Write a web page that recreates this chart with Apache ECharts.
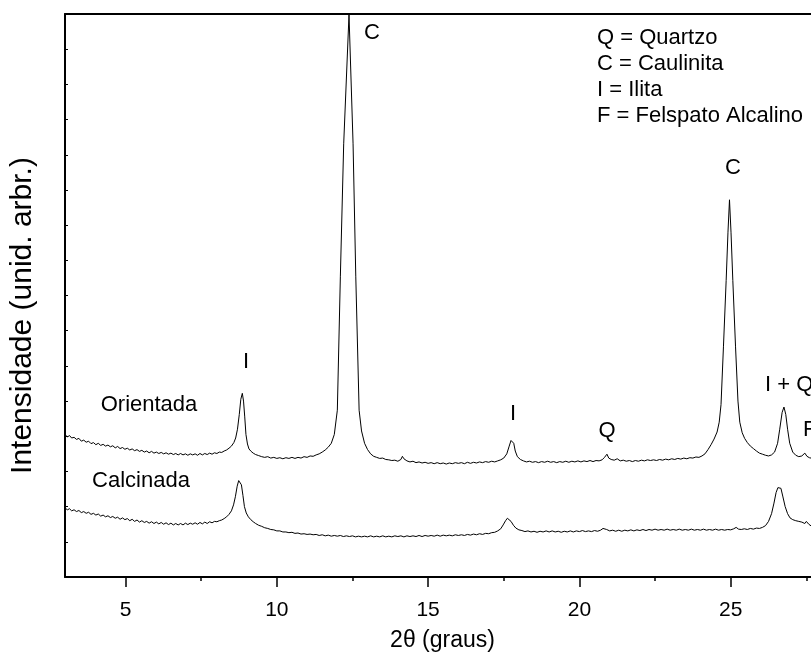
<!DOCTYPE html>
<html>
<head>
<meta charset="utf-8">
<script src="https://cdn.jsdelivr.net/npm/echarts@6/dist/echarts.min.js"></script>
<style>html,body{margin:0;padding:0;background:#fff}#c{width:811px;height:660px}</style>
</head>
<body>
<div id="c"></div>
<script>
// ---- data (2θ in degrees, intensity in arbitrary units) ----
var ori2theta = [3.00,3.08,3.15,3.22,3.30,3.38,3.46,3.54,3.62,3.70,3.78,3.86,3.94,4.02,4.10,4.18,4.26,4.34,4.42,4.50,4.58,4.66,4.74,4.82,4.90,4.98,5.06,5.14,5.22,5.30,5.38,5.46,5.54,5.62,5.70,5.78,5.86,5.94,6.02,6.10,6.18,6.26,6.34,6.42,6.50,6.58,6.66,6.74,6.82,6.90,6.98,7.06,7.14,7.22,7.30,7.38,7.46,7.54,7.62,7.70,7.78,7.86,7.94,8.02,8.10,8.18,8.26,8.34,8.42,8.50,8.58,8.64,8.70,8.76,8.81,8.86,8.90,8.94,8.98,9.03,9.08,9.15,9.22,9.30,9.40,9.50,9.60,9.70,9.80,9.90,10.00,10.10,10.20,10.30,10.40,10.50,10.60,10.70,10.80,10.90,11.00,11.10,11.20,11.30,11.40,11.50,11.60,11.70,11.80,11.90,12.00,12.10,12.21,12.386,12.52,12.61,12.72,12.80,12.90,13.00,13.10,13.20,13.30,13.40,13.50,13.60,13.70,13.80,13.90,14.00,14.10,14.15,14.20,14.30,14.40,14.50,14.60,14.70,14.80,14.90,15.00,15.10,15.20,15.30,15.40,15.50,15.60,15.70,15.80,15.90,16.00,16.10,16.20,16.30,16.40,16.50,16.60,16.70,16.80,16.90,17.00,17.10,17.20,17.30,17.40,17.50,17.60,17.68,17.74,17.78,17.83,17.88,17.95,18.05,18.15,18.25,18.35,18.45,18.55,18.65,18.75,18.85,18.95,19.05,19.15,19.25,19.35,19.45,19.55,19.65,19.75,19.85,19.95,20.05,20.15,20.25,20.35,20.45,20.55,20.65,20.75,20.83,20.91,20.97,21.05,21.15,21.25,21.35,21.45,21.55,21.65,21.75,21.85,21.95,22.05,22.15,22.25,22.35,22.45,22.55,22.65,22.75,22.85,22.95,23.05,23.15,23.25,23.35,23.45,23.55,23.65,23.75,23.85,23.95,24.05,24.15,24.25,24.35,24.45,24.55,24.62,24.68,24.76,24.85,24.91,24.96,25.01,25.07,25.16,25.24,25.30,25.38,25.46,25.55,25.65,25.75,25.85,25.95,26.05,26.15,26.25,26.35,26.45,26.55,26.62,26.70,26.76,26.82,26.88,26.95,27.05,27.15,27.25,27.35,27.45,27.52,27.60,27.70,27.80,28.00];
var oriIntensity = [405,398,402,395,397,391,394,386,389,383,386,379,382,376,380,374,377,372,375,370,373,367,371,365,368,363,366,361,364,359,362,357,360,355,358,353,357,352,355,351,354,350,353,349,352,348,351,347,351,347,350,346,350,347,350,346,351,347,351,348,352,349,353,351,355,354,358,361,366,372,382,395,420,462,505,522,500,455,405,378,364,357,352,348,345,342,340,342,338,340,337,339,336,339,337,340,337,340,338,342,340,344,343,347,350,355,361,369,380,405,474,853,1231,1598,1231,853,474,415,380,362,350,343,340,337,338,334,333,331,332,329,334,343,336,330,327,329,325,327,324,326,323,325,322,325,322,324,321,324,322,325,323,325,322,326,323,326,324,327,325,328,326,329,327,330,333,338,350,372,388,392,380,358,342,334,330,327,329,326,328,325,328,326,329,326,328,325,328,326,329,326,329,327,330,327,330,328,331,328,331,330,333,340,349,338,334,332,336,330,332,329,331,328,331,329,332,330,333,331,333,331,334,332,335,333,336,334,337,335,338,336,339,338,341,340,344,350,362,376,392,412,440,490,654,843,980,1072,980,843,654,500,440,410,394,382,372,365,358,352,349,346,344,347,355,380,420,468,483,462,420,380,355,346,342,344,352,343,339,337,336,334];

var cal2theta = [3.00,3.08,3.15,3.22,3.30,3.38,3.46,3.54,3.62,3.70,3.78,3.86,3.94,4.02,4.10,4.18,4.26,4.34,4.42,4.50,4.58,4.66,4.74,4.82,4.90,4.98,5.06,5.14,5.22,5.30,5.38,5.46,5.54,5.62,5.70,5.78,5.86,5.94,6.02,6.10,6.18,6.26,6.34,6.42,6.50,6.58,6.66,6.74,6.82,6.90,6.98,7.06,7.14,7.22,7.30,7.38,7.46,7.54,7.62,7.70,7.78,7.86,7.94,8.02,8.10,8.18,8.26,8.34,8.42,8.50,8.57,8.63,8.69,8.74,8.78,8.83,8.88,8.93,8.99,9.06,9.14,9.22,9.30,9.40,9.50,9.60,9.70,9.80,9.90,10.00,10.10,10.20,10.30,10.40,10.50,10.60,10.70,10.80,10.90,11.00,11.10,11.20,11.30,11.40,11.50,11.60,11.70,11.80,11.90,12.00,12.10,12.20,12.30,12.40,12.50,12.60,12.70,12.80,12.90,13.00,13.10,13.20,13.30,13.40,13.50,13.60,13.70,13.80,13.90,14.00,14.10,14.20,14.30,14.40,14.50,14.60,14.70,14.80,14.90,15.00,15.10,15.20,15.30,15.40,15.50,15.60,15.70,15.80,15.90,16.00,16.10,16.20,16.30,16.40,16.50,16.60,16.70,16.80,16.90,17.00,17.10,17.20,17.30,17.40,17.48,17.56,17.62,17.68,17.74,17.82,17.90,18.00,18.10,18.20,18.30,18.40,18.50,18.60,18.70,18.80,18.90,19.00,19.10,19.20,19.30,19.40,19.50,19.60,19.70,19.80,19.90,20.00,20.10,20.20,20.30,20.40,20.50,20.60,20.70,20.78,20.84,20.90,21.00,21.10,21.20,21.30,21.40,21.50,21.60,21.70,21.80,21.90,22.00,22.10,22.20,22.30,22.40,22.50,22.60,22.70,22.80,22.90,23.00,23.10,23.20,23.30,23.40,23.50,23.60,23.70,23.80,23.90,24.00,24.10,24.20,24.30,24.40,24.50,24.60,24.70,24.80,24.90,25.00,25.10,25.18,25.26,25.35,25.45,25.55,25.65,25.75,25.85,25.95,26.05,26.15,26.25,26.35,26.43,26.50,26.56,26.61,26.66,26.72,26.80,26.88,26.96,27.05,27.15,27.25,27.35,27.45,27.50,27.58,27.66,27.80,28.00];
var calIntensity = [196,191,194,188,191,186,189,183,186,181,184,178,181,176,179,173,176,171,174,169,172,167,170,164,168,163,166,160,164,158,162,156,160,155,158,153,157,152,156,151,155,150,154,149,153,148,152,148,152,148,153,149,153,150,154,150,155,151,156,152,157,154,158,157,160,162,166,171,178,188,205,228,258,274,277,262,232,200,182,171,163,157,152,147,144,140,138,135,134,131,131,128,128,126,127,124,125,122,123,121,122,120,121,118,120,117,119,116,118,116,118,115,117,115,117,114,116,114,116,114,117,114,116,114,117,114,116,114,117,115,117,114,117,115,117,115,118,115,118,116,118,116,119,116,119,117,119,117,120,118,120,118,121,119,122,120,123,121,124,123,126,127,131,137,148,160,167,165,158,147,139,134,132,129,131,128,130,127,130,128,131,128,131,128,130,127,130,128,131,128,131,129,132,129,131,129,132,130,133,138,142,135,131,133,130,133,130,133,131,134,131,134,132,135,132,135,133,136,133,135,133,136,133,135,133,136,133,135,133,136,133,135,133,136,133,135,133,136,133,135,133,135,134,137,141,136,135,137,135,138,136,139,138,141,146,158,180,210,240,254,258,252,230,200,180,168,163,160,158,156,152,158,150,145,142,140];

var xMajorTicks = [5, 10, 15, 20, 25, 30];
var xMinorTicks = [7.5, 12.5, 17.5, 22.5, 27.5];
var seriesNames = ['Orientada', 'Calcinada'];

var FONT = 'Liberation Sans, Arial, Helvetica, sans-serif';

function pairs(xs, ys) { return xs.map(function (x, i) { return [x, ys[i]]; }); }

var chart = echarts.init(document.getElementById('c'), null, { renderer: 'canvas' });

function txt(x, y, s, align) {
  return {
    type: 'text', x: x, y: y, silent: true,
    style: { text: s, fill: '#000', font: '22px ' + FONT, textAlign: align || 'center', textVerticalAlign: 'middle' }
  };
}

chart.setOption({
  animation: false,
  backgroundColor: '#fff',
  grid: { left: 65, top: 14, width: 817, height: 563, containLabel: false, outerBoundsMode: 'none' },
  xAxis: [
    {
      type: 'value', min: 3, max: 30, position: 'bottom',
      name: '2θ (graus)', nameLocation: 'middle', nameGap: 52,
      nameTextStyle: { fontFamily: FONT, fontSize: 23, color: '#000', padding: [0, 62, 0, 0] },
      axisLine: { show: true, onZero: false, lineStyle: { color: '#000', width: 2 } },
      axisTick: { show: true, inside: false, length: 10, customValues: xMajorTicks, lineStyle: { color: '#000', width: 1.5 } },
      axisLabel: { show: true, customValues: xMajorTicks, margin: 23, fontFamily: FONT, fontSize: 21, color: '#000' },
      splitLine: { show: false }
    },
    {
      type: 'value', min: 3, max: 30, position: 'bottom',
      axisLine: { show: false },
      axisTick: { show: true, inside: false, length: 4, customValues: xMinorTicks, lineStyle: { color: '#000', width: 1.5 } },
      axisLabel: { show: false },
      splitLine: { show: false }
    },
    {
      type: 'value', min: 3, max: 30, position: 'top',
      axisLine: { show: true, onZero: false, lineStyle: { color: '#000', width: 2 } },
      axisTick: { show: false }, axisLabel: { show: false }, splitLine: { show: false }
    }
  ],
  yAxis: {
    type: 'value', min: 0, max: 1600, interval: 100,
    name: 'Intensidade (unid. arbr.)', nameLocation: 'middle', nameGap: 27,
    nameTextStyle: { fontFamily: FONT, fontSize: 30, color: '#000', padding: [0, 40, 0, 0] },
    axisLine: { show: true, onZero: false, lineStyle: { color: '#000', width: 2 } },
    axisTick: { show: true, inside: true, length: 3, lineStyle: { color: '#000', width: 1 } },
    axisLabel: { show: false },
    splitLine: { show: false }
  },
  series: [
    {
      name: seriesNames[0], type: 'line', xAxisIndex: 0, showSymbol: false, symbol: 'none',
      lineStyle: { color: '#000', width: 1 }, data: pairs(ori2theta, oriIntensity), clip: true
    },
    {
      name: seriesNames[1], type: 'line', xAxisIndex: 0, showSymbol: false, symbol: 'none',
      lineStyle: { color: '#000', width: 1 }, data: pairs(cal2theta, calIntensity), clip: true
    }
  ],
  graphic: [
    txt(372, 33, 'C'),
    txt(597, 38, 'Q = Quartzo', 'left'),
    txt(597, 64, 'C = Caulinita', 'left'),
    txt(597, 90, 'I = Ilita', 'left'),
    txt(597, 116, 'F = Felspato Alcalino', 'left'),
    txt(733, 168, 'C'),
    txt(246, 362, 'I'),
    txt(149, 405, 'Orientada'),
    txt(141, 481, 'Calcinada'),
    txt(513, 414, 'I'),
    txt(607, 431, 'Q'),
    txt(765, 385, 'I + Q', 'left'),
    txt(803, 430, 'F', 'left')
  ]
});
</script>
</body>
</html>
